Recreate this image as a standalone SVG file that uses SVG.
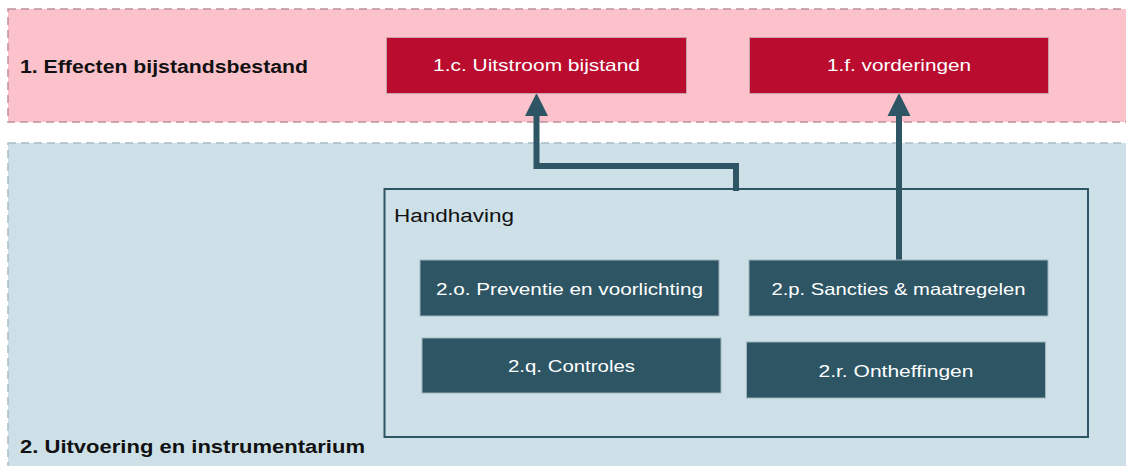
<svg xmlns="http://www.w3.org/2000/svg" width="1126" height="466" viewBox="0 0 1126 466">
<style>
.band1{fill:#fbc2cc;stroke:#c0909c;stroke-width:1.5;stroke-dasharray:8 5}
.band2{fill:#cde0e7;stroke:#a8bcc3;stroke-width:1.5;stroke-dasharray:8 5}
.sec{font-family:"Liberation Sans",Arial,sans-serif;font-weight:bold;font-size:18px;fill:#111}
.red{fill:#b90c2f;stroke:#c9a0a8;stroke-width:1}
.teal{fill:#2d5564;stroke:#9fb4bb;stroke-width:1}
.lbl{font-family:"Liberation Sans",Arial,sans-serif;font-size:16.5px;fill:#ffffff;text-anchor:middle}
.conn{fill:none;stroke:#2d5564;stroke-width:6}
.head{fill:#2d5564}
</style>
<rect width="1126" height="466" fill="#ffffff"/>
<g id="band-effecten">
<rect class="band1" x="8" y="9" width="1130" height="113"/>
<text class="sec" x="20" y="73" textLength="288" lengthAdjust="spacingAndGlyphs">1. Effecten bijstandsbestand</text>
</g>
<g id="band-uitvoering">
<rect class="band2" x="8" y="143" width="1130" height="340"/>
<text class="sec" x="20" y="453" textLength="345" lengthAdjust="spacingAndGlyphs">2. Uitvoering en instrumentarium</text>
</g>
<g id="handhaving">
<rect x="384.5" y="189" width="703.5" height="248" fill="none" stroke="#2d5564" stroke-width="2"/>
<text x="394" y="222" font-family="Liberation Sans,Arial,sans-serif" font-size="18" fill="#111" textLength="120" lengthAdjust="spacingAndGlyphs">Handhaving</text>
</g>
<g id="connectors">
<polyline class="conn" points="736,191 736,166 536.5,166 536.5,112"/>
<polygon class="head" points="536.5,93 525,116 548,116"/>
<polyline class="conn" points="899,260 899,112"/>
<polygon class="head" points="899,93 887.5,116 910.5,116"/>
</g>
<g id="node-1c">
<rect class="red" x="386.5" y="37.5" width="300" height="56"/>
<text class="lbl" x="536.5" y="71" textLength="207" lengthAdjust="spacingAndGlyphs">1.c. Uitstroom bijstand</text>
</g>
<g id="node-1f">
<rect class="red" x="749.5" y="37.5" width="299" height="56"/>
<text class="lbl" x="899" y="71" textLength="144" lengthAdjust="spacingAndGlyphs">1.f. vorderingen</text>
</g>
<g id="node-2o">
<rect class="teal" x="420" y="260" width="299" height="56"/>
<text class="lbl" x="569.5" y="295" textLength="267" lengthAdjust="spacingAndGlyphs">2.o. Preventie en voorlichting</text>
</g>
<g id="node-2p">
<rect class="teal" x="749" y="260" width="299" height="56"/>
<text class="lbl" x="898.5" y="295" textLength="254" lengthAdjust="spacingAndGlyphs">2.p. Sancties &amp; maatregelen</text>
</g>
<g id="node-2q">
<rect class="teal" x="422" y="338" width="299" height="55"/>
<text class="lbl" x="571.5" y="372" textLength="127" lengthAdjust="spacingAndGlyphs">2.q. Controles</text>
</g>
<g id="node-2r">
<rect class="teal" x="746.5" y="342" width="299" height="56"/>
<text class="lbl" x="896" y="377" textLength="155" lengthAdjust="spacingAndGlyphs">2.r. Ontheffingen</text>
</g>
</svg>
